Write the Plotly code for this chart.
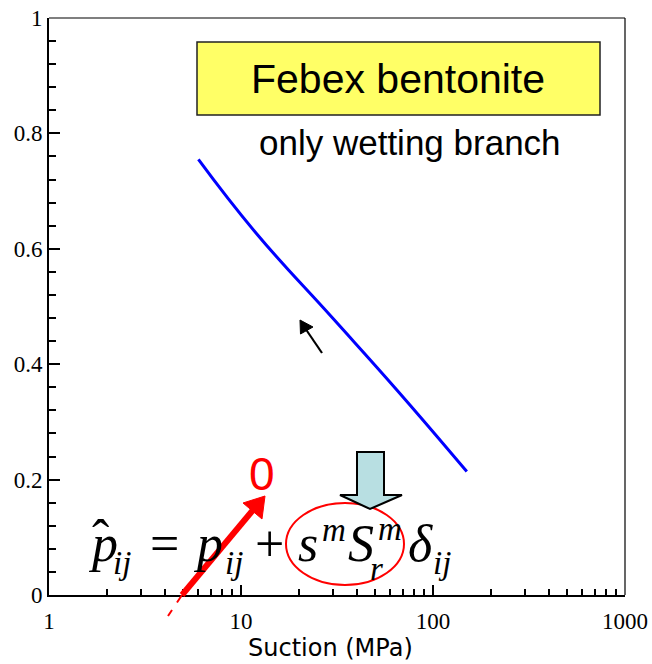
import plotly.graph_objects as go

# Degree of saturation along the wetting path (log suction axis)
suction = [6, 12, 30, 65, 150]
saturation = [0.755, 0.627, 0.48, 0.355, 0.214]

x_tick_vals = [1, 10, 100, 1000]
x_tick_text = ["1", "10", "100", "1000"]
y_tick_vals = [0, 0.2, 0.4, 0.6, 0.8, 1.0]
y_tick_text = ["0", "0.2", "0.4", "0.6", "0.8", "1"]

x_minor = [m * 10 ** k for k in range(3) for m in range(2, 10)]
y_minor = [round(i * 0.04, 2) for i in range(26) if i % 5]

W, H = 652, 664
L, R, T, B = 49, 27, 18, 69
PW, PH = W - L - R, H - T - B

SERIF = "Liberation Serif, Times New Roman, serif"
SANS = "Liberation Sans, Arial, sans-serif"


def fx(px):
    return (px - L) / PW


def fy(py):
    return (H - B - py) / PH


def text_at(text, x, baseline, size, family, color="black", anchor="left"):
    return dict(
        text=text, x=fx(x), y=fy(baseline - 0.34 * size),
        xref="paper", yref="paper", xanchor=anchor, yanchor="middle",
        showarrow=False, borderpad=0, borderwidth=0,
        font=dict(family=family, size=size, color=color),
    )


def path(points):
    return "M " + " L ".join(f"{fx(a):.5f},{fy(b):.5f}" for a, b in points) + " Z"


fig = go.Figure()
fig.add_trace(go.Scatter(
    x=suction, y=saturation, mode="lines",
    line=dict(color="#0000ff", width=3, shape="spline", smoothing=1.3),
    hoverinfo="skip", showlegend=False,
))

annotations = []

# equation  p^_ij = p_ij + s^m S_r^m delta_ij
eq_parts = [
    ("<i>p</i>", 88, 561, 52),
    ("ˆ", 92, 556, 52),
    ("<i>ij</i>", 113, 574, 33),
    ("=", 150, 561, 52),
    ("<i>p</i>", 193, 561, 52),
    ("<i>ij</i>", 225, 574, 33),
    ("+", 255, 561, 52),
    ("<i>s</i>", 298, 561, 52),
    ("<i>m</i>", 322, 541, 33),
    ("<i>S</i>", 348, 561, 52),
    ("<i>m</i>", 378, 540, 33),
    ("<i>r</i>", 370, 580, 33),
    ("<i>δ</i>", 408, 561, 52),
    ("<i>ij</i>", 433, 574, 33),
]
for txt, x, base, size in eq_parts:
    annotations.append(text_at(txt, x, base, size, SERIF))

annotations.append(text_at("Febex bentonite", 398, 93, 41, SANS, anchor="center"))
annotations.append(text_at("only wetting branch", 410, 154, 35, SANS, anchor="center"))
annotations.append(text_at("0", 262, 490, 46, SANS, color="#ff0000", anchor="center"))
annotations.append(text_at("Suction (MPa)", 330, 656, 24, "DejaVu Sans, Verdana, sans-serif",
                           anchor="center"))

shapes = [
    # frame: thin top and right edges
    dict(type="line", xref="paper", yref="paper", x0=0, x1=1, y0=1, y1=1,
         line=dict(color="black", width=1.2)),
    dict(type="line", xref="paper", yref="paper", x0=1, x1=1, y0=0, y1=1,
         line=dict(color="black", width=1.2)),
    # title box
    dict(type="rect", xref="paper", yref="paper", x0=fx(197), x1=fx(600), y0=fy(115), y1=fy(42),
         fillcolor="#ffff66", line=dict(color="#222222", width=1.5), layer="below"),
    # red ellipse around s^m S_r^m
    dict(type="circle", xref="paper", yref="paper", x0=fx(286), x1=fx(404), y0=fy(585), y1=fy(503),
         line=dict(color="#ff0000", width=2)),
    # light cyan block arrow
    dict(type="path", xref="paper", yref="paper",
         path=path([(357, 452), (384, 452), (384, 495), (402, 495), (370, 509), (340, 495), (357, 495)]),
         fillcolor="#b8dfe2", line=dict(color="black", width=2)),
    # red arrow: shaft, head and dashed tail
    dict(type="line", xref="paper", yref="paper", x0=fx(182), y0=fy(595), x1=fx(253), y1=fy(510),
         line=dict(color="#ff0000", width=6)),
    dict(type="path", xref="paper", yref="paper",
         path=path([(265, 496), (262, 519), (243, 503)]),
         fillcolor="#ff0000", line=dict(color="#ff0000", width=1)),
    dict(type="line", xref="paper", yref="paper", x0=fx(182), y0=fy(595), x1=fx(168), y1=fy(616),
         line=dict(color="#ff0000", width=2, dash="dash")),
    # small black arrow
    dict(type="line", xref="paper", yref="paper", x0=fx(322), y0=fy(353), x1=fx(305), y1=fy(328),
         line=dict(color="black", width=2.2)),
    dict(type="path", xref="paper", yref="paper",
         path=path([(300, 320), (300.5, 334), (313, 327)]),
         fillcolor="black", line=dict(color="black", width=1)),
]

fig.update_layout(
    width=W, height=H,
    margin=dict(l=L, r=R, t=T, b=B, pad=0, autoexpand=False),
    paper_bgcolor="white", plot_bgcolor="white",
    showlegend=False,
    annotations=annotations,
    shapes=shapes,
    xaxis=dict(
        type="log", range=[0, 3], automargin=False,
        showline=True, linecolor="black", linewidth=2, mirror=False,
        showgrid=False, zeroline=False,
        tickmode="array", tickvals=x_tick_vals, ticktext=x_tick_text,
        ticks="inside", ticklen=10, tickwidth=1.5, tickcolor="black",
        ticklabelstandoff=4,
        minor=dict(tickmode="array", tickvals=x_minor, ticks="inside",
                   ticklen=6, tickwidth=1.5, tickcolor="black", showgrid=False),
        tickfont=dict(family=SERIF, size=23, color="black"),
    ),
    yaxis=dict(
        range=[0, 1], automargin=False,
        showline=True, linecolor="black", linewidth=2, mirror=False,
        showgrid=False, zeroline=False,
        tickmode="array", tickvals=y_tick_vals, ticktext=y_tick_text,
        ticks="inside", ticklen=11, tickwidth=1.5, tickcolor="black",
        ticklabelstandoff=0,
        minor=dict(tickmode="array", tickvals=y_minor, ticks="inside",
                   ticklen=7, tickwidth=1.5, tickcolor="black", showgrid=False),
        tickfont=dict(family=SERIF, size=23, color="black"),
    ),
)

fig.write_html("out.html")
